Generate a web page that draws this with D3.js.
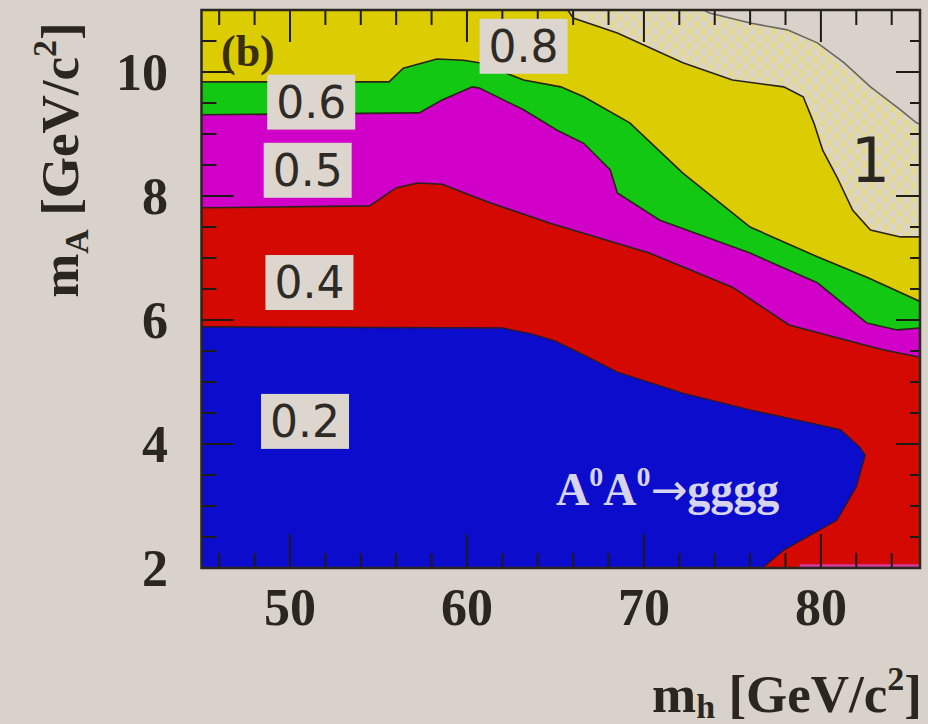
<!DOCTYPE html>
<html>
<head>
<meta charset="utf-8">
<style>
  body { margin: 0; background: #d8d2ca; }
  svg { display: block; }
  .serif { font-family: "Liberation Serif", "DejaVu Serif", serif; font-weight: bold; }
  .sans { font-family: "DejaVu Sans", sans-serif; }
</style>
</head>
<body>
<script src="https://d3js.org/d3.v7.min.js"></script>
<script>
// axis ticks
var xTicks = [50, 60, 70, 80];
var yTicks = [2, 4, 6, 8, 10];

// contour boundaries, [m_h, m_A]
// upper edge of each coloured band
var edgeTop = [[45, 11], [73.4, 11], [73.7, 10.95], [76.0, 10.79], [78.1, 10.68], [79.8, 10.47],
  [81.3, 10.15], [82.8, 9.76], [84.5, 9.39], [85.4, 9.18], [85.6, 9.16]];
var edge08 = [[45, 11], [65.7, 11], [66.0, 10.87], [68.5, 10.63], [72.2, 10.15], [75.0, 9.87],
  [77.9, 9.76], [79.0, 9.6], [79.6, 9.18], [80.1, 8.74], [80.9, 8.31], [81.8, 7.77],
  [82.8, 7.45], [84.5, 7.34], [85.6, 7.34]];
var edge06 = [[45, 9.84], [55.6, 9.84], [56.4, 10.06], [58.3, 10.21], [59.8, 10.19], [60.7, 10.15],
  [63.2, 9.87], [65.3, 9.76], [66.6, 9.6], [69.2, 9.18], [72.2, 8.37], [76.0, 7.5],
  [79.8, 7.02], [82.6, 6.69], [85.6, 6.3]];
var edge05 = [[45, 9.31], [57.3, 9.34], [58.6, 9.55], [60.3, 9.76], [60.7, 9.74], [63.2, 9.39],
  [65.1, 9.06], [66.6, 8.85], [68.1, 8.42], [68.5, 8.05], [70.9, 7.61], [76.0, 7.08],
  [79.8, 6.6], [82.6, 5.95], [84.3, 5.84], [85.6, 5.87]];
var edge04 = [[45, 7.81], [54.5, 7.84], [56.0, 8.13], [57.2, 8.21], [58.6, 8.19], [60.3, 8.0],
  [61.3, 7.89], [64.7, 7.56], [70.3, 7.08], [75.0, 6.53], [78.2, 5.92], [80.7, 5.73],
  [83.5, 5.52], [85.6, 5.4]];
// closed blue region (0.2)
var region02 = [[45, 2], [45, 5.89], [62.0, 5.87], [63.6, 5.78], [65.0, 5.66], [66.5, 5.45],
  [68.5, 5.16], [72.2, 4.82], [76.0, 4.55], [79.4, 4.34], [81.1, 4.23], [82.2, 3.95],
  [82.5, 3.82], [82.0, 3.31], [80.9, 2.77], [77.9, 2.29], [76.7, 2]];
var strip05 = [[78.8, 2.06], [85.6, 2.06]];

// contour labels: text, m_h, m_A
var labels = [["0.8", 63.2, 10.42], ["0.6", 51.2, 9.52], ["0.5", 51.0, 8.42],
  ["0.4", 51.1, 6.61], ["0.2", 50.85, 4.37]];
var bigLabel = ["1", 82.8, 8.58];

var W = 928, H = 724;
var svg = d3.select("body").append("svg")
  .attr("width", W).attr("height", H);

var x = d3.scaleLinear().domain([45, 85.6]).range([201.5, 920]);
var y = d3.scaleLinear().domain([2, 11]).range([568, 10]);

var defs = svg.append("defs");
var pat = defs.append("pattern").attr("id", "hatch")
  .attr("width", 14).attr("height", 14).attr("patternUnits", "userSpaceOnUse");
pat.append("rect").attr("width", 14).attr("height", 14).attr("fill", "#dcd5c6");
pat.append("rect").attr("width", 7).attr("height", 7).attr("fill", "#e3d98c").attr("opacity", 0.8);
pat.append("rect").attr("x", 7).attr("y", 7).attr("width", 7).attr("height", 7).attr("fill", "#e3d98c").attr("opacity", 0.8);
defs.append("clipPath").attr("id", "plotclip").append("rect")
  .attr("x", x(45)).attr("y", y(11)).attr("width", x(85.6) - x(45)).attr("height", y(2) - y(11));

var plot = svg.append("g").attr("clip-path", "url(#plotclip)");

var area = d3.area()
  .x(function(d) { return x(d[0]); })
  .y0(y(2))
  .y1(function(d) { return y(d[1]); });
var line = d3.line()
  .x(function(d) { return x(d[0]); })
  .y(function(d) { return y(d[1]); });

plot.append("path").datum(edgeTop).attr("d", area).attr("fill", "url(#hatch)");
plot.append("path").datum(edge08).attr("d", area).attr("fill", "#dccc02");
plot.append("path").datum(edge06).attr("d", area).attr("fill", "#12c812");
plot.append("path").datum(edge05).attr("d", area).attr("fill", "#d000c8");
plot.append("path").datum(edge04).attr("d", area).attr("fill", "#d40a02");
plot.append("path").datum(strip05).attr("d", area).attr("fill", "#d43a9a");
plot.append("path").datum(region02).attr("d", line.curve(d3.curveLinearClosed)).attr("fill", "#0c0ccc");
line.curve(d3.curveLinear);

// contour lines
plot.append("path").datum(edgeTop).attr("d", line).attr("fill", "none").attr("stroke", "#6a665e").attr("stroke-width", 1.6);
[edge08, edge06, edge05, edge04].forEach(function(e) {
  plot.append("path").datum(e).attr("d", line)
    .attr("fill", "none").attr("stroke", "#2a2418").attr("stroke-width", 1.6);
});
plot.append("path").datum(region02).attr("d", line)
  .attr("fill", "none").attr("stroke", "#2a1830").attr("stroke-width", 1.4);

// ticks, all four sides, pointing in
var tk = svg.append("g").attr("stroke", "#1e1a16").attr("stroke-width", 2);
d3.range(46, 86, 2).forEach(function(v) {
  var major = v % 10 === 0;
  tk.append("line").attr("x1", x(v)).attr("x2", x(v)).attr("y1", y(2)).attr("y2", y(2) - (major ? 34 : 15));
  tk.append("line").attr("x1", x(v)).attr("x2", x(v)).attr("y1", y(11)).attr("y2", y(11) + (major ? 32 : 15));
});
d3.range(2.5, 11, 0.5).forEach(function(v) {
  var major = v % 2 === 0;
  tk.append("line").attr("y1", y(v)).attr("y2", y(v)).attr("x1", x(45)).attr("x2", x(45) + (major ? 32 : 15));
  tk.append("line").attr("y1", y(v)).attr("y2", y(v)).attr("x1", x(85.6)).attr("x2", x(85.6) - (major ? 24 : 10));
});

// frame
svg.append("rect").attr("x", x(45)).attr("y", y(11))
  .attr("width", x(85.6) - x(45)).attr("height", y(2) - y(11))
  .attr("fill", "none").attr("stroke", "#2a2620").attr("stroke-width", 2.5);

// tick labels
svg.selectAll(".xl").data(xTicks).enter().append("text")
  .attr("class", "serif").attr("x", function(d) { return x(d); }).attr("y", 625)
  .attr("text-anchor", "middle").attr("font-size", 52).attr("fill", "#2a2620")
  .text(function(d) { return d; });
svg.selectAll(".yl").data(yTicks).enter().append("text")
  .attr("class", "serif").attr("x", 168).attr("y", function(d) { return y(d); })
  .attr("dy", "0.34em").attr("text-anchor", "end").attr("font-size", 52).attr("fill", "#2a2620")
  .text(function(d) { return d; });

// axis titles
var xt = svg.append("text").attr("class", "serif").attr("font-size", 53).attr("fill", "#2a2620")
  .attr("x", 922).attr("y", 712).attr("text-anchor", "end");
xt.append("tspan").text("m");
xt.append("tspan").attr("font-size", 34).attr("dy", 6).text("h");
xt.append("tspan").attr("dy", -6).text(" [GeV/c");
xt.append("tspan").attr("font-size", 34).attr("dy", -22).text("2");
xt.append("tspan").attr("dy", 22).text("]");

var yt = svg.append("text").attr("class", "serif").attr("font-size", 53).attr("fill", "#2a2620")
  .attr("transform", "translate(78,160) rotate(-90)").attr("text-anchor", "middle");
yt.append("tspan").text("m");
yt.append("tspan").attr("font-size", 34).attr("dy", 10).text("A");
yt.append("tspan").attr("dy", -10).text(" [GeV/c");
yt.append("tspan").attr("font-size", 34).attr("dy", -22).text("2");
yt.append("tspan").attr("dy", 22).text("]");

// panel tag
svg.append("text").attr("class", "serif").attr("x", 221).attr("y", 66)
  .attr("font-size", 44).attr("fill", "#3a2e10").text("(b)");

// contour labels with boxes
labels.forEach(function(l) {
  var g = svg.append("g");
  var t = g.append("text").attr("class", "sans")
    .attr("x", x(l[1])).attr("y", y(l[2])).attr("dy", "0.36em")
    .attr("text-anchor", "middle").attr("font-size", 44).attr("fill", "#2e2a26").text(l[0]);
  var b = t.node().getBBox();
  g.insert("rect", "text").attr("x", b.x - 9).attr("y", b.y - 2)
    .attr("width", b.width + 18).attr("height", b.height + 4).attr("fill", "#ddd6ce");
});
svg.append("text").attr("class", "sans")
  .attr("x", x(bigLabel[1])).attr("y", y(bigLabel[2])).attr("dy", "0.36em")
  .attr("text-anchor", "middle").attr("font-size", 62).attr("fill", "#2a2620").text(bigLabel[0]);

// process label
var pt = svg.append("text").attr("class", "serif").attr("x", 556).attr("y", 505)
  .attr("font-size", 46).attr("fill", "#d6d4ee");
pt.append("tspan").text("A");
pt.append("tspan").attr("font-size", 28).attr("dy", -19).text("0");
pt.append("tspan").attr("dy", 19).text("A");
pt.append("tspan").attr("font-size", 28).attr("dy", -19).text("0");
pt.append("tspan").attr("dy", 19).attr("font-family", "DejaVu Sans").attr("font-weight", "normal")
  .attr("font-size", 44).text("\u2192");
pt.append("tspan").text("gggg");
</script>
</body>
</html>
